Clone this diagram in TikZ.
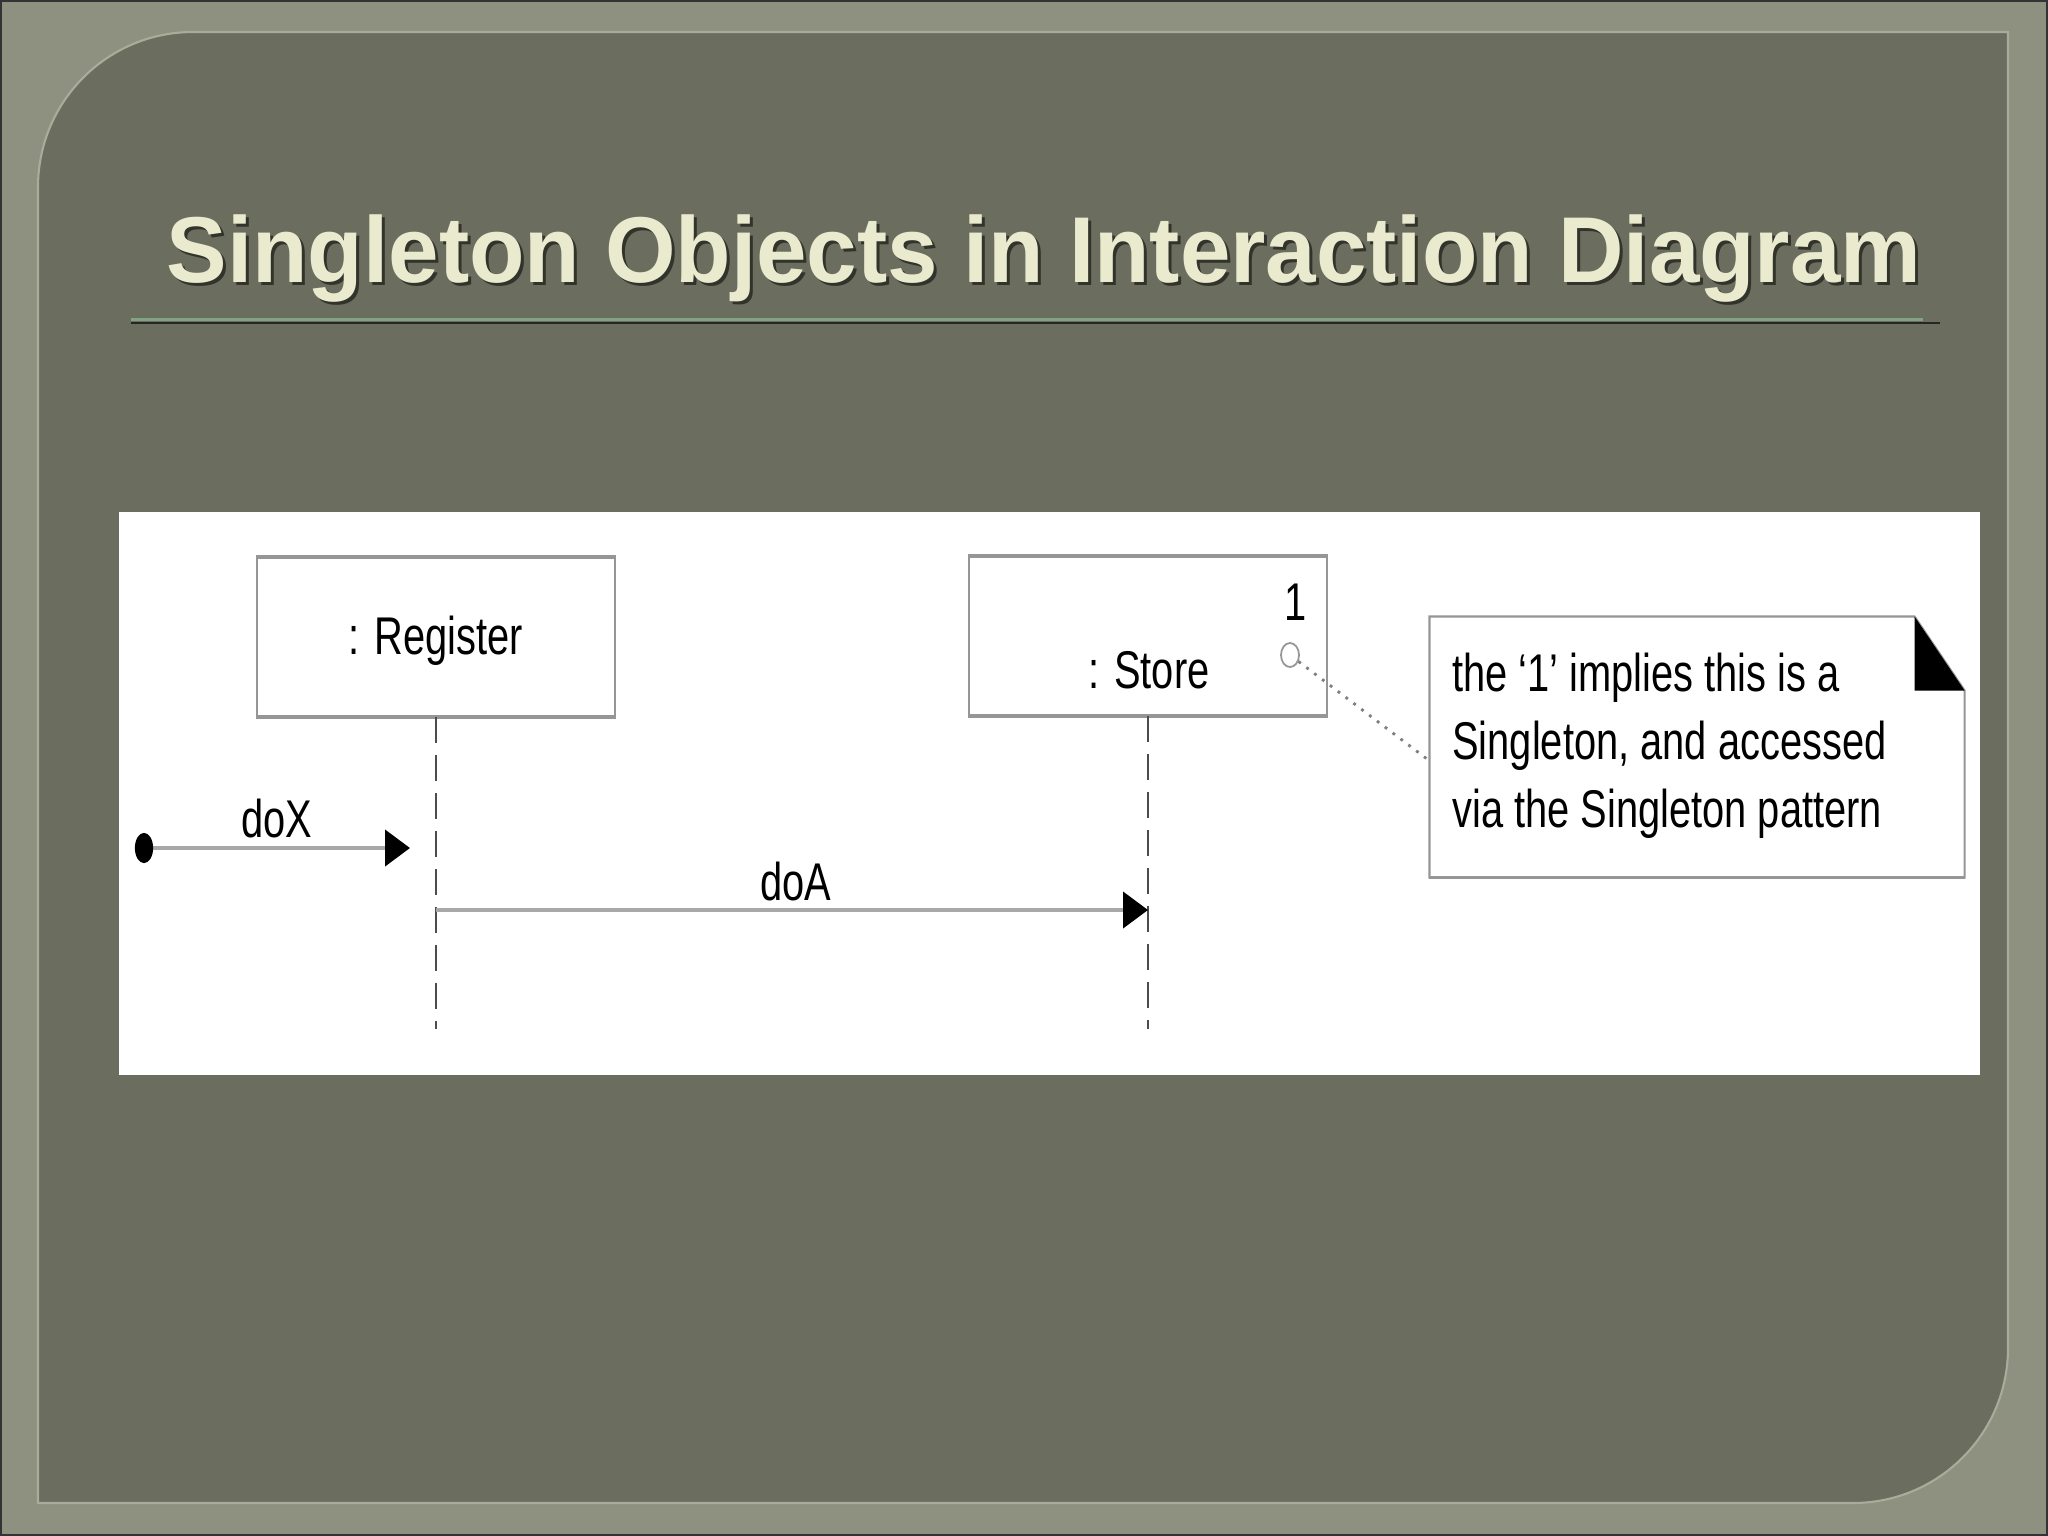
\documentclass[tikz,border=0pt]{standalone}
\usepackage{fontspec}
\setmainfont{Liberation Sans}[FakeStretch=0.75]
\newfontfamily\titlefont{Liberation Sans}[FakeStretch=0.97]
\usepackage{xcolor}
\usetikzlibrary{positioning, calc, arrows.meta, shapes.geometric}
\definecolor{framegray}{RGB}{142,145,128}
\definecolor{panelgray}{RGB}{107,109,94}
\definecolor{edgegray}{RGB}{170,172,154}
\definecolor{titlecream}{RGB}{233,234,206}
\definecolor{titleshadow}{RGB}{50,51,42}
\definecolor{rulegreen}{RGB}{127,163,131}
\definecolor{boxgray}{RGB}{150,150,150}
\definecolor{msggray}{RGB}{168,168,168}
\tikzset{
    objbox/.style={draw=boxgray, fill=white, line width=0.6pt, minimum width=3.58cm, minimum height=1.58cm, inner sep=0pt},
    umltext/.style={font=\fontsize{15.1pt}{19.3pt}\selectfont, text=black, inner sep=0pt},
    lifeline/.style={draw=black!70, line width=0.65pt, dash pattern=on 7.4pt off 3.4pt},
    message/.style={draw=msggray, line width=1.3pt, -{Triangle[length=7.1pt,width=10.2pt,color=black]}},
    titletext/.style={font=\titlefont\bfseries\fontsize{26.6pt}{30pt}\selectfont, anchor=base, inner sep=0pt}
}

\begin{document}
\begin{tikzpicture}[thick, x=0.01cm, y=-0.01cm]
    \useasboundingbox (0,0) rectangle (2048,1536);

    % Slide frame and panel
    \fill[framegray] (0,0) rectangle (2048,1536);
    \draw[black!80, line width=0.7pt] (1,1) rectangle (2047,1535);
    \draw[edgegray, line width=0.6pt, fill=panelgray] (38,1503) -- (38,187)
        arc[start angle=180, end angle=270, radius=155] -- (2008,32) -- (2008,1348)
        arc[start angle=0, end angle=90, radius=155] -- cycle;

    % Title
    \node[titletext, text=titleshadow] (titleshade) at (1047,285) {Singleton Objects in Interaction Diagram};
    \node[titletext, text=titlecream] (title) at (1044,282) {Singleton Objects in Interaction Diagram};
    \draw[rulegreen, line width=0.85pt] (131,319) -- (1923,319);
    \draw[black!85, line width=0.6pt] (131,323) -- (1940,323);

    % Diagram area
    \fill[white] (119,512) rectangle (1980,1075);

    % Objects
    \node[objbox] (register) at (436,637) {};
    \node[umltext, anchor=base] (reglabel) at (436,654) {: Register};
    \node[objbox] (store) at (1148,636) {};
    \node[umltext, anchor=base] (storelabel) at (1149,688) {: Store};
    \node[umltext, anchor=base] (mult) at (1296,620) {1};
    \node[draw=boxgray, ellipse, line width=0.5pt, minimum width=0.18cm, minimum height=0.24cm, inner sep=0pt] (port) at (1290,655) {};
    \draw[boxgray, line width=1.1pt] (register.north west) -- (register.north east);
    \draw[boxgray, line width=1.1pt] (register.south west) -- (register.south east);
    \draw[boxgray, line width=1.1pt] (store.north west) -- (store.north east);
    \draw[boxgray, line width=1.1pt] (store.south west) -- (store.south east);

    % Lifelines
    \coordinate (regbottom) at (436,1029);
    \coordinate (storebottom) at (1148,1029);
    \draw[lifeline] (register.south) -- (regbottom);
    \draw[lifeline] (store.south) -- (storebottom);

    % Found message doX
    \coordinate (found) at (144,848);
    \coordinate (doxend) at (410,848);
    \draw[message] (found) -- (doxend);
    \fill (found) ellipse [x radius=2.6pt, y radius=4.3pt];
    \node[umltext, anchor=base] (doxlabel) at (277,837) {doX};

    % Message doA
    \coordinate (doastart) at (436,910);
    \coordinate (doaend) at (1148,910);
    \draw[message] (doastart) -- (doaend);
    \node[umltext, anchor=base] (doalabel) at (796,900) {doA};

    % Note
    \node[minimum width=5.32cm, minimum height=2.58cm, inner sep=0pt] (note) at (1697,747) {};
    \draw[boxgray, line width=0.6pt, fill=white] (note.north west) -- ($(note.north east)+(-50,0)$)
        -- ($(note.north east)+(0,74)$) -- (note.south east) -- (note.south west) -- cycle;
    \draw[boxgray, line width=1.1pt] (note.south west) -- (note.south east);
    \fill ($(note.north east)+(-50,0)$) -- ($(note.north east)+(-50,74)$) -- ($(note.north east)+(0,74)$) -- cycle;
    \node[umltext, align=left, anchor=north west] (notetext) at (1451,652)
        {the ‘1’ implies this is a\\Singleton, and accessed\\via the Singleton pattern};
    \coordinate (notehook) at (1431,762);
    \draw[black!50, line width=0.8pt, dotted] (port) -- (notehook);
\end{tikzpicture}
\end{document}
